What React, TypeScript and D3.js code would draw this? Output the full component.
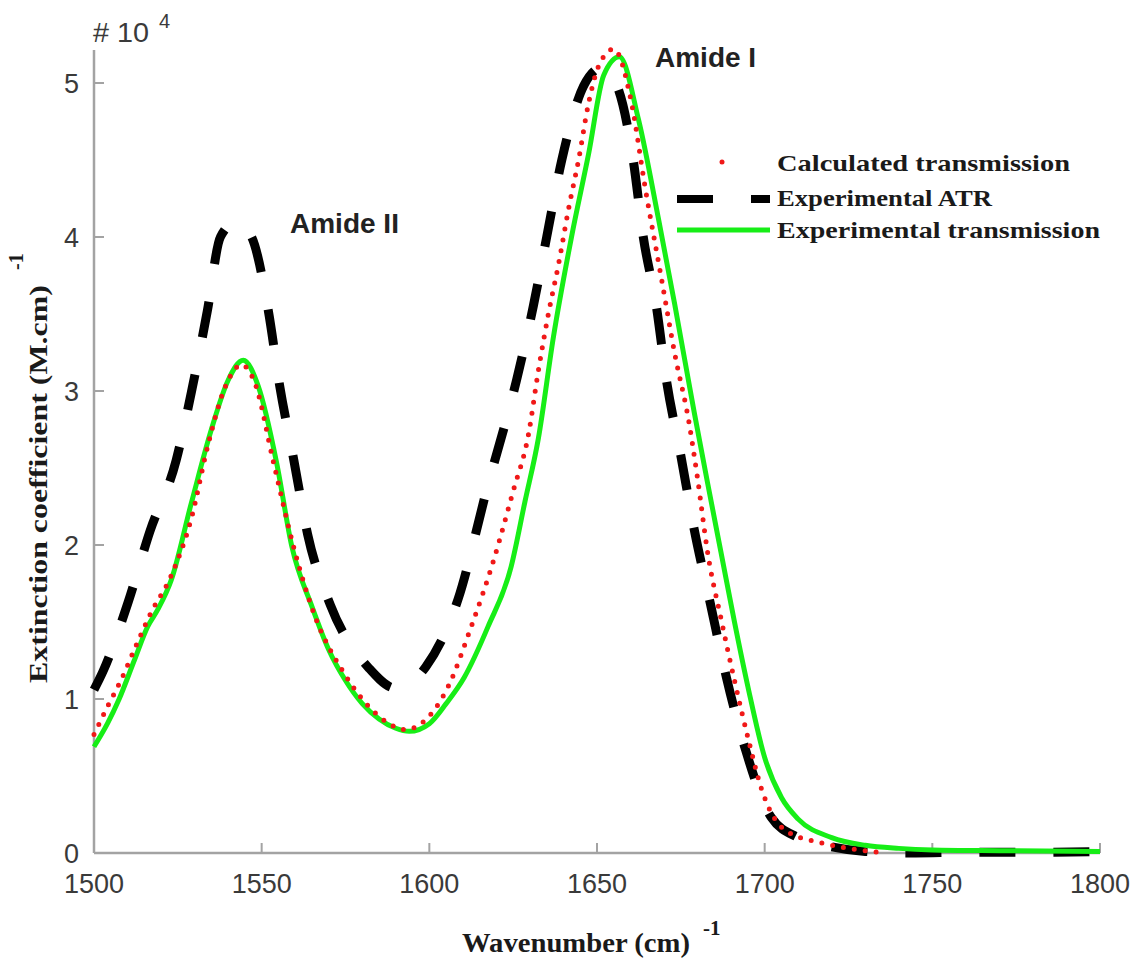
import React, { useEffect, useRef } from "react";
import * as d3 from "d3";

// Calculated transmission (red dotted), units of 10^4 M^-1 cm^-1
const calcWavenumber = [1500, 1504, 1508, 1512, 1517, 1523, 1529, 1534, 1539, 1544, 1548, 1553.5, 1559.5, 1565.5, 1574.5, 1582, 1588, 1593, 1597.5, 1605.6, 1612.5, 1619.3, 1625, 1629.5, 1632.5, 1635.5, 1638.5, 1641.5, 1644.5, 1647.5, 1650.5, 1655, 1660.3, 1664.3, 1669.3, 1673.2, 1677.4, 1680, 1683, 1687, 1691, 1695, 1699, 1706, 1717, 1728, 1736];
const calcValues = [0.77, 0.95, 1.12, 1.32, 1.56, 1.8, 2.17, 2.65, 3.02, 3.17, 3.05, 2.54, 1.99, 1.56, 1.17, 0.95, 0.84, 0.8, 0.84, 1.08, 1.47, 1.91, 2.35, 2.71, 3.13, 3.5, 3.82, 4.18, 4.5, 4.87, 5.11, 5.22, 4.87, 4.33, 3.72, 3.24, 2.8, 2.43, 1.95, 1.52, 1.12, 0.75, 0.42, 0.15, 0.065, 0.02, 0];

// Experimental ATR (black dashed)
const atrWavenumber = [1500, 1502.7, 1510.2, 1516.7, 1524.5, 1529.3, 1533.8, 1537.7, 1542.5, 1547, 1552, 1555.4, 1559.6, 1563.7, 1570.5, 1582, 1590, 1599, 1608.6, 1617, 1626, 1631, 1635, 1639.5, 1646, 1651.5, 1656, 1660.8, 1663.8, 1667.7, 1670.7, 1675, 1679, 1683.8, 1688.6, 1694.3, 1702, 1710, 1720, 1730, 1745, 1760, 1780, 1800];
const atrValues = [1.06, 1.18, 1.63, 2.09, 2.55, 3.02, 3.52, 4.0, 4.1, 4.0, 3.52, 3.03, 2.55, 2.07, 1.61, 1.2, 1.07, 1.21, 1.65, 2.35, 3.07, 3.55, 4.0, 4.5, 4.98, 5.1, 4.98, 4.5, 4.0, 3.55, 3.07, 2.58, 2.1, 1.62, 1.14, 0.67, 0.23, 0.1, 0.04, 0.01, 0.0, 0.005, 0.005, 0.01];

// Experimental transmission (green solid)
const transWavenumber = [1500, 1504, 1507.5, 1512, 1516, 1519, 1523, 1529, 1535, 1540, 1544.5, 1549, 1554.5, 1559, 1565, 1570, 1575, 1580, 1585, 1590, 1594, 1600, 1605, 1610.4, 1617.5, 1624.4, 1628.5, 1632.5, 1637, 1642.4, 1647.5, 1652, 1656.7, 1662.4, 1668.4, 1673.2, 1679, 1683, 1687, 1691, 1695, 1700, 1705, 1710, 1720, 1730, 1740, 1750, 1770, 1800];
const transValues = [0.69, 0.84, 1.0, 1.25, 1.47, 1.58, 1.77, 2.27, 2.75, 3.07, 3.2, 3.03, 2.53, 1.99, 1.6, 1.32, 1.12, 0.97, 0.87, 0.81, 0.79, 0.84, 0.97, 1.14, 1.47, 1.86, 2.28, 2.69, 3.35, 4.0, 4.54, 5.05, 5.17, 4.76, 4.11, 3.56, 2.86, 2.4, 1.95, 1.5, 1.08, 0.62, 0.36, 0.22, 0.1, 0.05, 0.03, 0.02, 0.015, 0.01];

const xTicks = [1500, 1550, 1600, 1650, 1700, 1750, 1800];
const yTicks = [0, 1, 2, 3, 4, 5];

const legendLabels = ["Calculated transmission", "Experimental ATR", "Experimental transmission"];

const theme = {
  axisColor: "#a3a3a3",
  tickText: "#3a3a3a",
  red: "#f01818",
  black: "#000000",
  green: "#17ee17",
  sans: "'Liberation Sans', Arial, sans-serif",
  serif: "'Liberation Serif', 'Times New Roman', serif",
};

const App = () => {
  const svgRef = useRef(null);

  useEffect(() => {
    const svg = d3.select(svgRef.current);
    svg.selectAll("*").remove();

    const width = 1139;
    const height = 958;

    svg.attr("width", width).attr("height", height);
    svg.append("rect").attr("width", width).attr("height", height).attr("fill", "#ffffff");

    const xScale = d3.scaleLinear().domain([1500, 1800]).range([94, 1100]);
    const yScale = d3.scaleLinear().domain([0, 5]).range([853, 83]);

    const line = d3
      .line()
      .x((d) => xScale(d[0]))
      .y((d) => yScale(d[1]))
      .curve(d3.curveMonotoneX);

    const atr = atrWavenumber.map((w, i) => [w, atrValues[i]]);
    const trans = transWavenumber.map((w, i) => [w, transValues[i]]);
    const calc = calcWavenumber.map((w, i) => [w, calcValues[i]]);

    // axes
    svg
      .append("line")
      .attr("x1", xScale(1500))
      .attr("x2", xScale(1500))
      .attr("y1", yScale(0))
      .attr("y2", yScale(5.215))
      .attr("stroke", theme.axisColor)
      .attr("stroke-width", 2.5);

    svg
      .append("line")
      .attr("x1", xScale(1500))
      .attr("x2", xScale(1800))
      .attr("y1", yScale(0))
      .attr("y2", yScale(0))
      .attr("stroke", theme.axisColor)
      .attr("stroke-width", 2.5);

    svg
      .selectAll(".xtick")
      .data(xTicks)
      .enter()
      .append("line")
      .attr("x1", (d) => xScale(d))
      .attr("x2", (d) => xScale(d))
      .attr("y1", yScale(0))
      .attr("y2", yScale(0) - 10)
      .attr("stroke", theme.axisColor)
      .attr("stroke-width", 2);

    svg
      .selectAll(".ytick")
      .data(yTicks)
      .enter()
      .append("line")
      .attr("x1", xScale(1500))
      .attr("x2", xScale(1500) + 10)
      .attr("y1", (d) => yScale(d))
      .attr("y2", (d) => yScale(d))
      .attr("stroke", theme.axisColor)
      .attr("stroke-width", 2);

    svg
      .selectAll(".xlabel")
      .data(xTicks)
      .enter()
      .append("text")
      .attr("x", (d) => xScale(d))
      .attr("y", 893)
      .attr("text-anchor", "middle")
      .attr("fill", theme.tickText)
      .style("font-family", theme.sans)
      .style("font-size", "27px")
      .text((d) => d);

    svg
      .selectAll(".ylabel")
      .data(yTicks)
      .enter()
      .append("text")
      .attr("x", 79)
      .attr("y", (d) => yScale(d) + 10)
      .attr("text-anchor", "end")
      .attr("fill", theme.tickText)
      .style("font-family", theme.sans)
      .style("font-size", "27px")
      .text((d) => d);

    // exponent
    svg
      .append("text")
      .attr("x", 93)
      .attr("y", 42)
      .attr("textLength", 56)
      .attr("lengthAdjust", "spacingAndGlyphs")
      .attr("fill", theme.tickText)
      .style("font-family", theme.sans)
      .style("font-size", "28px")
      .text("# 10");
    svg
      .append("text")
      .attr("x", 159)
      .attr("y", 28)
      .attr("fill", theme.tickText)
      .style("font-family", theme.sans)
      .style("font-size", "20px")
      .text("4");

    // curves
    svg
      .append("path")
      .datum(atr)
      .attr("d", line)
      .attr("fill", "none")
      .attr("stroke", theme.black)
      .attr("stroke-width", 9)
      .attr("stroke-dasharray", "36 38");

    svg
      .append("path")
      .datum(trans)
      .attr("d", line)
      .attr("fill", "none")
      .attr("stroke", theme.green)
      .attr("stroke-width", 5);

    svg
      .append("path")
      .datum(calc)
      .attr("d", line)
      .attr("fill", "none")
      .attr("stroke", theme.red)
      .attr("stroke-width", 5)
      .attr("stroke-linecap", "round")
      .attr("stroke-dasharray", "0 11");

    // annotations
    svg
      .append("text")
      .attr("x", 655)
      .attr("y", 67)
      .attr("fill", "#222")
      .style("font-family", theme.sans)
      .style("font-weight", "bold")
      .style("font-size", "28px")
      .text("Amide I");

    svg
      .append("text")
      .attr("x", 290)
      .attr("y", 233)
      .attr("fill", "#222")
      .style("font-family", theme.sans)
      .style("font-weight", "bold")
      .style("font-size", "28px")
      .text("Amide II");

    // legend
    const legend = svg.append("g");
    const rowY = [162, 199, 230];
    const textBase = [171, 206, 238];
    const textLen = [293, 215, 323];

    legend
      .append("circle")
      .attr("cx", 722)
      .attr("cy", rowY[0])
      .attr("r", 2.5)
      .attr("fill", theme.red);

    legend
      .append("line")
      .attr("x1", 677)
      .attr("x2", 770)
      .attr("y1", rowY[1])
      .attr("y2", rowY[1])
      .attr("stroke", theme.black)
      .attr("stroke-width", 8)
      .attr("stroke-dasharray", "36 38");

    legend
      .append("line")
      .attr("x1", 677)
      .attr("x2", 770)
      .attr("y1", rowY[2])
      .attr("y2", rowY[2])
      .attr("stroke", theme.green)
      .attr("stroke-width", 5);

    legend
      .selectAll(".legend-text")
      .data(legendLabels)
      .enter()
      .append("text")
      .attr("x", 777)
      .attr("y", (d, i) => textBase[i])
      .attr("textLength", (d, i) => textLen[i])
      .attr("lengthAdjust", "spacingAndGlyphs")
      .attr("fill", "#1a1a1a")
      .style("font-family", theme.serif)
      .style("font-weight", "bold")
      .style("font-size", "23px")
      .text((d) => d);

    // axis titles
    svg
      .append("text")
      .attr("x", 462)
      .attr("y", 952)
      .attr("textLength", 228)
      .attr("lengthAdjust", "spacingAndGlyphs")
      .attr("fill", "#1a1a1a")
      .style("font-family", theme.serif)
      .style("font-weight", "bold")
      .style("font-size", "27px")
      .text("Wavenumber (cm)");
    svg
      .append("text")
      .attr("x", 703)
      .attr("y", 935)
      .attr("fill", "#1a1a1a")
      .style("font-family", theme.serif)
      .style("font-weight", "bold")
      .style("font-size", "21px")
      .text("-1");

    svg
      .append("text")
      .attr("transform", "translate(47,683) rotate(-90)")
      .attr("textLength", 398)
      .attr("lengthAdjust", "spacingAndGlyphs")
      .attr("fill", "#1a1a1a")
      .style("font-family", theme.serif)
      .style("font-weight", "bold")
      .style("font-size", "25px")
      .text("Extinction coefficient (M.cm)");
    svg
      .append("text")
      .attr("transform", "translate(23,270) rotate(-90)")
      .attr("fill", "#1a1a1a")
      .style("font-family", theme.serif)
      .style("font-weight", "bold")
      .style("font-size", "20px")
      .text("-1");
  }, []);

  return <svg ref={svgRef} style={{ position: "absolute", left: 0, top: 0 }}></svg>;
};

export default App;
